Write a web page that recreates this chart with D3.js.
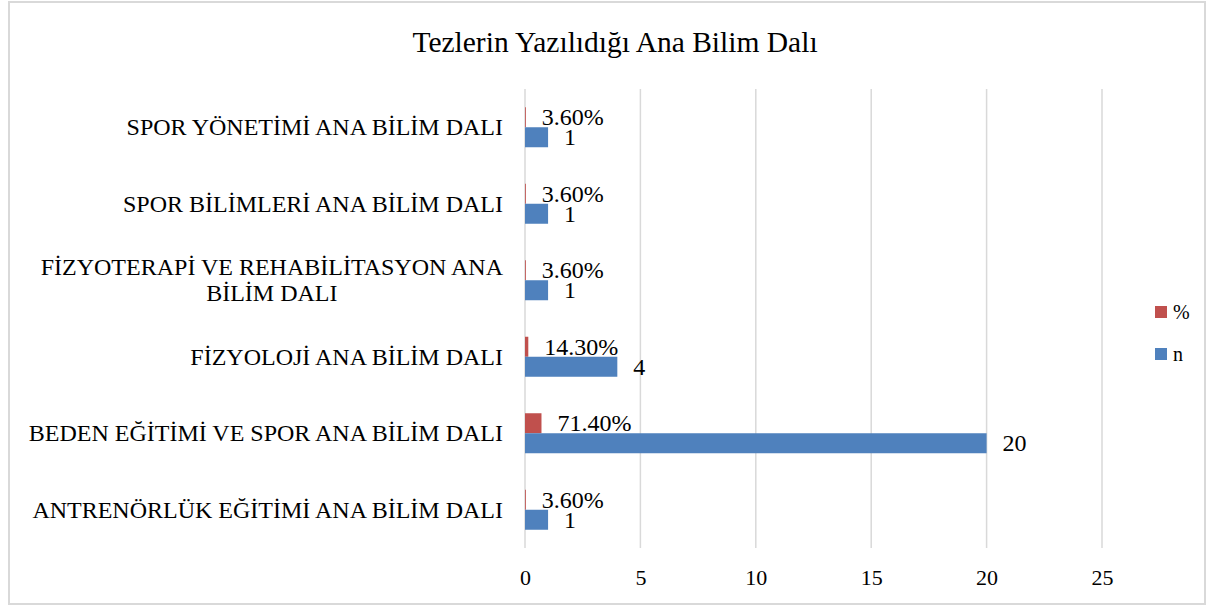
<!DOCTYPE html>
<html>
<head>
<meta charset="utf-8">
<script src="https://cdn.jsdelivr.net/npm/d3@7"></script>
<style>
  html, body { margin: 0; padding: 0; background: #fff; }
  svg { display: block; }
</style>
</head>
<body>
<svg id="chart" width="1215" height="608"></svg>
<script>
// Departments (top to bottom as drawn)
const categories = [
  "SPOR YÖNETİMİ ANA BİLİM DALI",
  "SPOR BİLİMLERİ ANA BİLİM DALI",
  "FİZYOTERAPİ VE REHABİLİTASYON ANA|BİLİM DALI",
  "FİZYOLOJİ ANA BİLİM DALI",
  "BEDEN EĞİTİMİ VE SPOR ANA BİLİM DALI",
  "ANTRENÖRLÜK EĞİTİMİ ANA BİLİM DALI"
];
// Number of theses per department
const nValues = [1, 1, 1, 4, 20, 1];
// Share of theses per department (fraction)
const pctValues = [0.036, 0.036, 0.036, 0.143, 0.714, 0.036];
const xTicks = [0, 5, 10, 15, 20, 25];
const seriesNames = ["%", "n"];
const title = "Tezlerin Yazılıdığı Ana Bilim Dalı";

const colors = { "%": "#c0504d", "n": "#4f81bd" };
const FONT = '"Liberation Serif", "Times New Roman", serif';

const svg = d3.select("#chart");

// Outer frame
svg.append("rect")
  .attr("x", 9).attr("y", 2).attr("width", 1196).attr("height", 602)
  .attr("fill", "#fff").attr("stroke", "#d9d9d9").attr("stroke-width", 2);

// Title
svg.append("text")
  .attr("x", 615).attr("y", 42)
  .attr("text-anchor", "middle").attr("dominant-baseline", "central")
  .attr("font-family", FONT)
  .attr("font-size", 29.5)
  .text(title);

const x = d3.scaleLinear().domain([0, 25]).range([525, 1102]);
const y = d3.scaleBand().domain(categories).range([89, 548]);
const barH = 20;

// Vertical gridlines
svg.append("g").selectAll("line").data(xTicks).join("line")
  .attr("x1", d => x(d)).attr("x2", d => x(d))
  .attr("y1", 89).attr("y2", 548)
  .attr("stroke", "#d9d9d9").attr("stroke-width", 1.5);

// X axis tick labels
const xAxis = d3.axisBottom(x).tickValues(xTicks).tickSize(0).tickPadding(0);
const gx = svg.append("g").attr("transform", "translate(0,577)").call(xAxis);
gx.attr("font-family", FONT).attr("font-size", 22);
gx.select(".domain").remove();
gx.selectAll("text")
  .attr("fill", "#000")
  .attr("dy", null)
  .attr("y", 0)
  .attr("dominant-baseline", "central");

// Category labels, right-aligned; wrapped labels centred within their block
const catG = svg.append("g").attr("font-family", FONT).attr("font-size", 24);
categories.forEach(c => {
  const lines = c.split("|");
  const cy = y(c) + y.bandwidth() / 2;
  const lh = 26;
  const g = catG.append("g");
  const texts = lines.map((ln, i) => g.append("text")
    .attr("y", cy + (i - (lines.length - 1) / 2) * lh)
    .attr("dominant-baseline", "central")
    .text(ln));
  const widths = texts.map(t => t.node().getComputedTextLength());
  const maxW = d3.max(widths);
  const right = 503;
  texts.forEach(t => {
    t.attr("x", right - maxW / 2).attr("text-anchor", "middle");
  });
});

// Bars: "%" above band centre, "n" below
const rows = categories.map((c, i) => ({ c, n: nValues[i], p: pctValues[i] }));

const bars = svg.append("g");
bars.selectAll("rect.pct").data(rows).join("rect")
  .attr("class", "pct")
  .attr("x", x(0))
  .attr("y", d => y(d.c) + y.bandwidth() / 2 - barH)
  .attr("width", d => x(d.p) - x(0))
  .attr("height", barH)
  .attr("fill", colors["%"]);

bars.selectAll("rect.n").data(rows).join("rect")
  .attr("class", "n")
  .attr("x", x(0))
  .attr("y", d => y(d.c) + y.bandwidth() / 2)
  .attr("width", d => x(d.n) - x(0))
  .attr("height", barH)
  .attr("fill", colors["n"]);

// Value labels
const labels = svg.append("g").attr("font-family", FONT).attr("font-size", 24);
labels.selectAll("text.pl").data(rows).join("text")
  .attr("class", "pl")
  .attr("x", d => x(d.p) + 16)
  .attr("y", d => y(d.c) + y.bandwidth() / 2 - barH / 2)
  .attr("dominant-baseline", "central")
  .text(d => (d.p * 100).toFixed(2) + "%");

labels.selectAll("text.nl").data(rows).join("text")
  .attr("class", "nl")
  .attr("x", d => x(d.n) + 16)
  .attr("y", d => y(d.c) + y.bandwidth() / 2 + barH / 2)
  .attr("dominant-baseline", "central")
  .text(d => d.n);

// Legend
const legend = svg.append("g").attr("font-family", FONT).attr("font-size", 20);
seriesNames.forEach((s, i) => {
  const ly = 312 + i * 42;
  legend.append("rect")
    .attr("x", 1155).attr("y", ly - 6).attr("width", 12).attr("height", 12)
    .attr("fill", colors[s]);
  legend.append("text")
    .attr("x", 1173).attr("y", ly)
    .attr("dominant-baseline", "central")
    .text(s);
});
</script>
</body>
</html>
